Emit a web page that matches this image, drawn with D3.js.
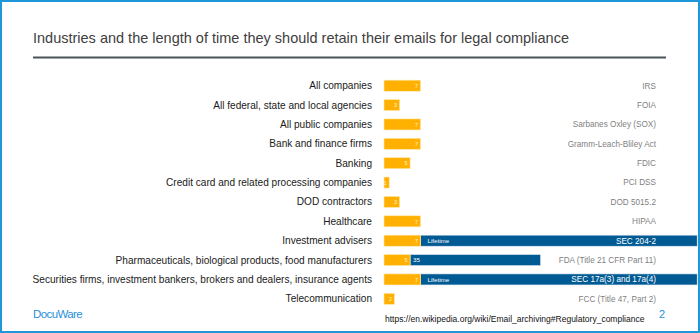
<!DOCTYPE html>
<html><head><meta charset="utf-8">
<script src="https://cdn.jsdelivr.net/npm/d3@7"></script>
<style>html,body{margin:0;padding:0;background:#fff;}svg{display:block;}</style>
</head><body>
<svg id="c" width="700" height="333"></svg>
<script>
const categories = ["All companies","All federal, state and local agencies","All public companies","Bank and finance firms","Banking","Credit card and related processing companies","DOD contractors","Healthcare","Investment advisers","Pharmaceuticals, biological products, food manufacturers","Securities firms, investment bankers, brokers and dealers, insurance agents","Telecommunication"];
const yearsValues = [7,3,7,7,5,1,3,7,7,5,7,2];
const extraValues = [0,0,0,0,0,0,0,0,53,25,53,0];
const extraLabels = ["","","","","","","","","Lifetime","35","Lifetime",""];
const regulations = ["IRS","FOIA","Sarbanes Oxley (SOX)","Gramm-Leach-Bliley Act","FDIC","PCI DSS","DOD 5015.2","HIPAA","SEC 204-2","FDA (Title 21 CFR Part 11)","SEC 17a(3) and 17a(4)","FCC (Title 47, Part 2)"];
const title = "Industries and the length of time they should retain their emails for legal compliance";
const source = "https://en.wikipedia.org/wiki/Email_archiving#Regulatory_compliance";

const svg = d3.select("#c");
const font = "'Liberation Sans', Arial, sans-serif";
const yellow = "#FFB000", blue = "#005A94";

const x = d3.scaleLinear().domain([0, 60]).range([384, 697.2]);
const y = d3.scaleBand().domain(categories).range([76, 308.5]).paddingInner(0.43).paddingOuter(0.215);

svg.append("defs").append("clipPath").attr("id","clip").append("rect").attr("x",0).attr("y",0).attr("width",698).attr("height",333);

// title
svg.append("text").attr("x",33).attr("y",43).attr("font-family",font).attr("font-size",14.5)
  .attr("fill","#404040").text(title);
svg.append("line").attr("x1",33).attr("x2",666).attr("y1",57.5).attr("y2",57.5)
  .attr("stroke","#4b5459").attr("stroke-width",2);

// category labels
svg.append("g").selectAll("text").data(categories).join("text")
  .attr("x",372).attr("y",d=>y(d)+y.bandwidth()/2).attr("dy","0.35em")
  .attr("text-anchor","end").attr("font-family",font).attr("font-size",10.1).attr("fill","#1a1a1a")
  .text(d=>d);

const rows = categories.map((c,i)=>({c, v:yearsValues[i], e:extraValues[i], el:extraLabels[i], r:regulations[i]}));
const g = svg.append("g").attr("clip-path","url(#clip)");

g.selectAll("rect.extra").data(rows.filter(d=>d.e>0)).join("rect").attr("class","extra")
  .attr("x",d=>x(d.v)).attr("y",d=>y(d.c)).attr("width",d=>x(d.v+d.e)-x(d.v)).attr("height",y.bandwidth())
  .attr("fill",blue).attr("stroke","#dfe9f2").attr("stroke-width",0.6);

g.selectAll("rect.yrs").data(rows).join("rect").attr("class","yrs")
  .attr("x",x(0)).attr("y",d=>y(d.c)).attr("width",d=>x(d.v)-x(0)).attr("height",y.bandwidth())
  .attr("fill",yellow).attr("stroke","#ffe9b0").attr("stroke-width",0.6);

svg.append("g").selectAll("text").data(rows).join("text")
  .attr("x",d=>x(d.v)-2.5).attr("y",d=>y(d.c)+y.bandwidth()/2).attr("dy","0.4em")
  .attr("text-anchor","end").attr("font-family",font).attr("font-size",5.5).attr("fill","#fff3d6")
  .text(d=>d.v);

svg.append("g").selectAll("text").data(rows.filter(d=>d.e>0)).join("text")
  .attr("x",d=>x(d.v)+(d.el==="Lifetime"?7:3)).attr("y",d=>y(d.c)+y.bandwidth()/2).attr("dy","0.38em")
  .attr("font-family",font).attr("font-size",6.2).attr("fill","#ffffff")
  .text(d=>d.el);

svg.append("g").selectAll("text").data(rows).join("text")
  .attr("x",656).attr("y",d=>y(d.c)+y.bandwidth()/2).attr("dy","0.35em")
  .attr("text-anchor","end").attr("font-family",font).attr("font-size",8.2)
  .attr("fill",d=>d.e>0 && x(d.v+d.e)>657 ? "#ffffff" : "#7f7f7f")
  .text(d=>d.r);

// footer
svg.append("text").attr("x",385).attr("y",322).attr("font-family",font).attr("font-size",8.5).attr("fill","#111").text(source);
svg.append("text").attr("x",659).attr("y",318).attr("font-family",font).attr("font-size",11).attr("fill","#1f8fd6").text("2");
svg.append("text").attr("x",33).attr("y",318).attr("font-family",font).attr("font-size",11.5).attr("letter-spacing",-0.6)
  .attr("fill","#1f8fd6").text("DocuWare");

svg.append("rect").attr("x",1).attr("y",1).attr("width",698).attr("height",331)
  .attr("fill","none").attr("stroke","#1f96d8").attr("stroke-width",2);
</script>
</body></html>
